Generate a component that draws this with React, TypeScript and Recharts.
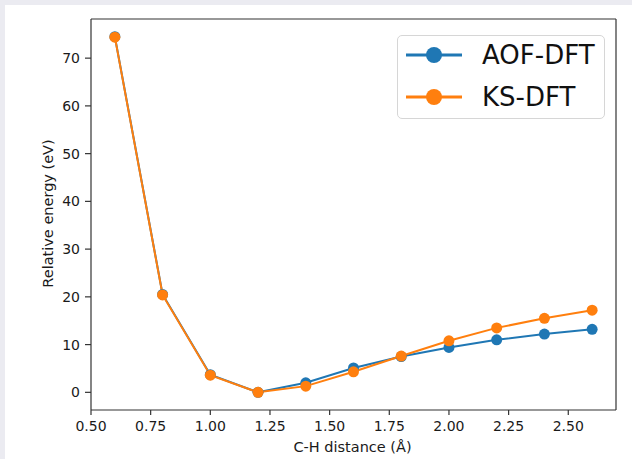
import React from 'react';
import { LineChart, Line, XAxis, YAxis, Legend, ReferenceLine } from 'recharts';

const distances = [0.6, 0.8, 1.0, 1.2, 1.4, 1.6, 1.8, 2.0, 2.2, 2.4, 2.6];
const aofDft = [74.5, 20.5, 3.7, 0.0, 2.0, 5.1, 7.5, 9.4, 11.0, 12.2, 13.2];
const ksDft = [74.4, 20.4, 3.6, 0.0, 1.3, 4.3, 7.6, 10.8, 13.5, 15.5, 17.2];
const xTicks = [0.5, 0.75, 1.0, 1.25, 1.5, 1.75, 2.0, 2.25, 2.5];
const yTicks = [0, 10, 20, 30, 40, 50, 60, 70];
const xDomain = [0.5, 2.7];
const yDomain = [-3.7, 78.2];
const seriesNames = ['AOF-DFT', 'KS-DFT'];
const seriesColors = ['#1f77b4', '#ff7f0e'];

const data = distances.map((d, i) => ({ d, aof: aofDft[i], ks: ksDft[i] }));

const FONT = "'DejaVu Sans', sans-serif";
const TICK = { fill: '#1a1a1a', fontSize: 14, fontFamily: FONT };
const AXIS_STROKE = { stroke: '#333', strokeWidth: 1.2 };

const LegendBox = () => (
  <div
    style={{
      width: 208,
      height: 84,
      border: '1px solid #d6d6d6',
      borderRadius: 5,
      background: 'rgba(255,255,255,0.85)',
      boxSizing: 'border-box',
      position: 'relative',
    }}
  >
    {seriesNames.map((name, i) => (
      <div
        key={name}
        style={{ position: 'absolute', left: 7, top: 6 + i * 42, height: 26, display: 'flex', alignItems: 'center' }}
      >
        <svg width={58} height={26}>
          <line x1={1} y1={13} x2={57} y2={13} stroke={seriesColors[i]} strokeWidth={3} />
          <circle cx={29} cy={13} r={8} fill={seriesColors[i]} />
        </svg>
        <span style={{ marginLeft: 19, fontSize: 26, fontFamily: FONT, color: '#111', lineHeight: '26px' }}>{name}</span>
      </div>
    ))}
  </div>
);

const YLabel = (props: any) => {
  const vb = props.viewBox || {};
  const cx = 47.5;
  const cy = vb.y + vb.height / 2 - 1;
  return (
    <text
      x={cx}
      y={cy}
      transform={`rotate(-90, ${cx}, ${cy})`}
      textAnchor="middle"
      dominantBaseline="central"
      fontSize={14.5}
      fontFamily={FONT}
      fill="#1a1a1a"
    >
      Relative energy (eV)
    </text>
  );
};

const XLabel = (props: any) => {
  const vb = props.viewBox || {};
  const cx = vb.x + vb.width / 2 - 1;
  return (
    <text x={cx} y={446.5} textAnchor="middle" dominantBaseline="central" fontSize={14.5} fontFamily={FONT} fill="#1a1a1a">
      C-H distance (Å)
    </text>
  );
};

export default function App() {
  return (
    <div style={{ position: 'fixed', left: 0, top: 0, width: 632, height: 459, background: '#ebebf1', fontFamily: FONT }}>
      <div style={{ position: 'absolute', left: 5, top: 5, width: 627, height: 454, background: '#ffffff' }} />
      <div style={{ position: 'absolute', left: 0, top: 0 }}>
        <LineChart width={632} height={459} data={data} margin={{ top: 19, right: 16, bottom: 19, left: 0 }}>
          <XAxis
            dataKey="d"
            type="number"
            domain={xDomain}
            ticks={xTicks}
            tickFormatter={(v: number) => v.toFixed(2)}
            height={30}
            tick={TICK}
            tickSize={5}
            tickMargin={6}
            axisLine={AXIS_STROKE}
            tickLine={AXIS_STROKE}
            allowDataOverflow
            label={<XLabel />}
          />
          <YAxis
            type="number"
            domain={yDomain}
            ticks={yTicks}
            width={91}
            tick={TICK}
            tickSize={6}
            tickMargin={5}
            axisLine={AXIS_STROKE}
            tickLine={AXIS_STROKE}
            allowDataOverflow
            label={<YLabel />}
          />
          <ReferenceLine y={yDomain[1]} stroke="#333" strokeWidth={1.2} ifOverflow="visible" />
          <ReferenceLine x={xDomain[1]} stroke="#333" strokeWidth={1.2} ifOverflow="visible" />
          <Legend
            layout="horizontal"
            verticalAlign="middle"
            align="center"
            content={<LegendBox />}
            wrapperStyle={{ position: 'absolute', left: 397, top: 35, width: 210, height: 86 }}
          />
          <Line
            dataKey="aof"
            name={seriesNames[0]}
            stroke={seriesColors[0]}
            strokeWidth={2}
            dot={{ r: 5.5, fill: seriesColors[0], stroke: seriesColors[0], strokeWidth: 0 }}
            activeDot={false}
            isAnimationActive={false}
          />
          <Line
            dataKey="ks"
            name={seriesNames[1]}
            stroke={seriesColors[1]}
            strokeWidth={2}
            dot={{ r: 5.5, fill: seriesColors[1], stroke: seriesColors[1], strokeWidth: 0 }}
            activeDot={false}
            isAnimationActive={false}
          />
        </LineChart>
      </div>
    </div>
  );
}
